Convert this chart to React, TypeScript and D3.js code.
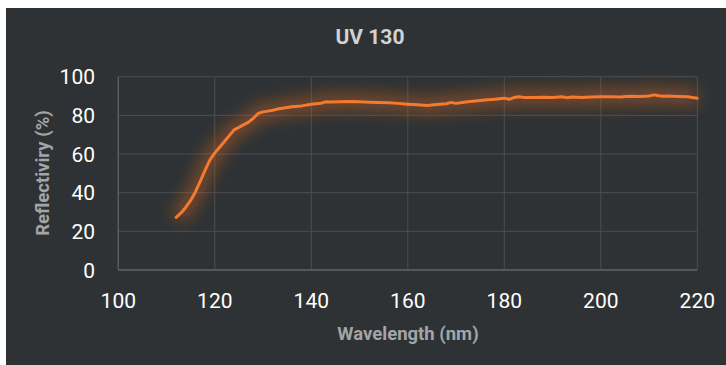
import React from "react";
import * as d3 from "d3";

const title = "UV 130";
const xTitle = "Wavelength (nm)";
const yTitle = "Reflectiviry (%)";
const xTicks = [100, 120, 140, 160, 180, 200, 220];
const yTicks = [0, 20, 40, 60, 80, 100];

const wavelength = [
  112, 113, 114, 115, 116, 117, 118, 119, 120, 121, 122, 123, 124, 125, 126, 127, 128, 129, 130,
  131, 132, 133, 134, 136, 138, 140, 142, 143, 144, 146, 148, 150, 152, 154, 156, 158, 160, 162,
  164, 166, 168, 169, 170, 172, 174, 176, 178, 180, 181, 182, 183, 184, 186, 188, 190, 192, 193,
  194, 196, 198, 200, 202, 204, 206, 208, 210, 211, 212, 213, 214, 216, 218, 220,
];
const reflectivity = [
  27.2, 29.5, 32.5, 36, 40.5, 46, 51.7, 57, 60.6, 63.5, 66.5, 69.5, 72.5, 73.8, 75.2, 76.5, 78.5,
  81, 81.8, 82.2, 82.6, 83.3, 83.7, 84.4, 84.9, 85.7, 86.3, 87, 86.9, 87.1, 87.2, 87.0, 86.8, 86.6,
  86.5, 86.2, 85.8, 85.5, 85.1, 85.6, 86.0, 86.7, 86.2, 86.9, 87.4, 87.9, 88.3, 88.9, 88.3, 89.2,
  89.6, 89.3, 89.3, 89.4, 89.3, 89.6, 89.1, 89.5, 89.3, 89.5, 89.6, 89.6, 89.5, 89.9, 89.7, 90.0,
  90.6, 90.1, 89.9, 90.0, 89.8, 89.6, 88.8,
];

const W = 726;
const H = 365;
const FONT = "Roboto, 'Noto Sans', sans-serif";

export default function App() {
  const x = d3.scaleLinear().domain([100, 220]).range([118.3, 697.3]);
  const y = d3.scaleLinear().domain([0, 100]).range([270, 76.7]);
  const data = wavelength.map((w, i) => [w, reflectivity[i]] as [number, number]);
  const line = d3
    .line<[number, number]>()
    .x((d) => x(d[0]))
    .y((d) => y(d[1]))
    .curve(d3.curveLinear);
  const path = line(data) || "";

  return (
    <svg
      width={W}
      height={H}
      style={{ position: "fixed", left: 0, top: 0, display: "block" }}
    >
      <defs>
        <filter id="glow" x="-10%" y="-50%" width="120%" height="200%">
          <feGaussianBlur stdDeviation="8" />
        </filter>
      </defs>
      <rect x={0} y={0} width={W} height={H} fill="#ffffff" />
      <rect x={6} y={8} width={W - 6} height={H - 8} fill="#2e3235" />
      <text
        x={370}
        y={44}
        textAnchor="middle"
        fill="#d2d2d2"
        fontFamily={FONT}
        fontWeight="bold"
        fontSize={21}
      >
        {title}
      </text>
      {xTicks.map((t) => (
        <line
          key={"gx" + t}
          x1={x(t)}
          x2={x(t)}
          y1={y(100)}
          y2={y(0)}
          stroke="#4a4e51"
          strokeWidth={1}
        />
      ))}
      {yTicks.map((t) => (
        <line
          key={"gy" + t}
          x1={x(100)}
          x2={x(220)}
          y1={y(t)}
          y2={y(t)}
          stroke="#4a4e51"
          strokeWidth={1}
        />
      ))}
      <line x1={x(100)} x2={x(100)} y1={y(100)} y2={y(0)} stroke="#5c6063" strokeWidth={1.3} />
      <line x1={x(100)} x2={x(220)} y1={y(0)} y2={y(0)} stroke="#5c6063" strokeWidth={1.3} />
      {yTicks.map((t) => (
        <text
          key={"ty" + t}
          x={95}
          y={y(t)}
          dy="0.36em"
          textAnchor="end"
          fill="#ffffff"
          fontFamily={FONT}
          fontSize={21}
        >
          {t}
        </text>
      ))}
      {xTicks.map((t) => (
        <text
          key={"tx" + t}
          x={x(t)}
          y={300}
          dy="0.36em"
          textAnchor="middle"
          fill="#ffffff"
          fontFamily={FONT}
          fontSize={21}
        >
          {t}
        </text>
      ))}
      <text
        x={408}
        y={333}
        dy="0.36em"
        textAnchor="middle"
        fill="#a3a5a6"
        fontFamily={FONT}
        fontWeight="bold"
        fontSize={18.5}
      >
        {xTitle}
      </text>
      <text
        transform={`translate(42,${173}) rotate(-90)`}
        textAnchor="middle"
        dy="0.36em"
        fill="#a3a5a6"
        fontFamily={FONT}
        fontWeight="bold"
        fontSize={18.5}
      >
        {yTitle}
      </text>
      <path d={path} fill="none" stroke="#e8691e" strokeOpacity={0.42} strokeWidth={16} filter="url(#glow)" />
      <path d={path} fill="none" stroke="#f47a2e" strokeWidth={3} strokeLinejoin="round" strokeLinecap="round" />
    </svg>
  );
}
